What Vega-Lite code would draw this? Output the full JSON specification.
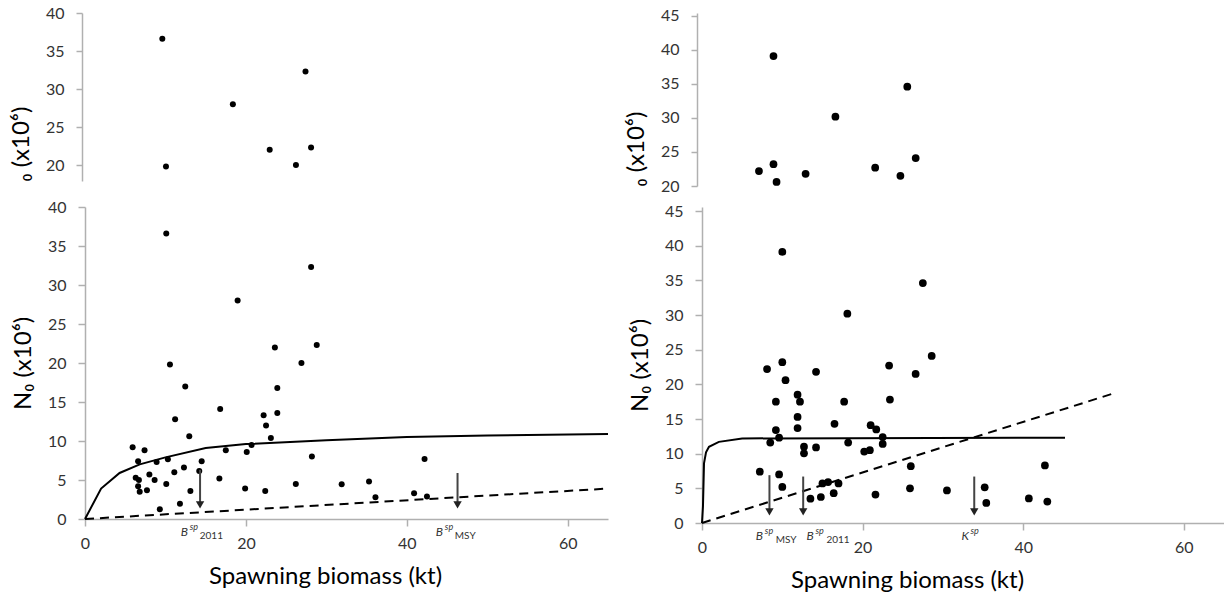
{
  "$schema": "https://vega.github.io/schema/vega-lite/v6.json",
  "padding": {"left": 9, "top": 5, "right": 0, "bottom": 0},
  "background": "white",
  "columns": 2,
  "spacing": {"row": 21, "column": 94},
  "bounds": "flush",
  "align": "each",
  "datasets": {
    "L": [
      {"x": 18.97, "y": 28.0}, {"x": 23.6, "y": 22.0}, {"x": 28.8, "y": 22.3}, {"x": 26.9, "y": 20.0},
      {"x": 10.56, "y": 19.8}, {"x": 12.46, "y": 17.0}, {"x": 23.9, "y": 16.8}, {"x": 16.8, "y": 14.1},
      {"x": 22.2, "y": 13.3}, {"x": 23.9, "y": 13.6}, {"x": 11.2, "y": 12.8}, {"x": 22.5, "y": 12.0},
      {"x": 12.96, "y": 10.6}, {"x": 23.1, "y": 10.4}, {"x": 5.92, "y": 9.2}, {"x": 7.4, "y": 8.8},
      {"x": 17.5, "y": 8.8}, {"x": 20.1, "y": 8.6}, {"x": 20.7, "y": 9.5}, {"x": 28.2, "y": 8.0},
      {"x": 6.6, "y": 7.4}, {"x": 8.9, "y": 7.3}, {"x": 10.3, "y": 7.65}, {"x": 14.5, "y": 7.4},
      {"x": 14.2, "y": 6.15}, {"x": 11.1, "y": 6.0}, {"x": 12.3, "y": 6.6}, {"x": 8.0, "y": 5.7},
      {"x": 8.65, "y": 5.0}, {"x": 6.3, "y": 5.3}, {"x": 6.7, "y": 5.0}, {"x": 6.6, "y": 4.2},
      {"x": 7.7, "y": 3.7}, {"x": 6.8, "y": 3.5}, {"x": 10.1, "y": 4.5}, {"x": 16.7, "y": 5.2},
      {"x": 13.1, "y": 3.6}, {"x": 19.9, "y": 3.9}, {"x": 22.4, "y": 3.6}, {"x": 26.2, "y": 4.5},
      {"x": 11.8, "y": 1.96}, {"x": 9.3, "y": 1.24}, {"x": 31.9, "y": 4.45}, {"x": 35.3, "y": 4.8},
      {"x": 36.1, "y": 2.8}, {"x": 40.9, "y": 3.3}, {"x": 42.2, "y": 7.7}, {"x": 42.5, "y": 2.9},
      {"x": 10.1, "y": 36.6}, {"x": 28.1, "y": 32.3}
    ],
    "R": [
      {"x": 18.1, "y": 30.2}, {"x": 28.6, "y": 24.1}, {"x": 23.3, "y": 22.7}, {"x": 26.6, "y": 21.5},
      {"x": 8.1, "y": 22.2}, {"x": 10.0, "y": 23.2}, {"x": 10.4, "y": 20.6}, {"x": 14.2, "y": 21.8},
      {"x": 9.2, "y": 17.5}, {"x": 11.9, "y": 18.5}, {"x": 12.2, "y": 17.5}, {"x": 17.7, "y": 17.5},
      {"x": 23.4, "y": 17.8}, {"x": 11.9, "y": 15.3}, {"x": 11.9, "y": 13.7}, {"x": 16.5, "y": 14.3},
      {"x": 21.0, "y": 14.1}, {"x": 21.7, "y": 13.5}, {"x": 9.2, "y": 13.4}, {"x": 9.6, "y": 12.3},
      {"x": 8.5, "y": 11.6}, {"x": 18.2, "y": 11.6}, {"x": 22.5, "y": 12.4}, {"x": 22.5, "y": 11.4},
      {"x": 12.7, "y": 11.0}, {"x": 12.7, "y": 10.05}, {"x": 14.2, "y": 10.9}, {"x": 20.2, "y": 10.3},
      {"x": 20.9, "y": 10.5}, {"x": 7.2, "y": 7.4}, {"x": 9.6, "y": 7.0}, {"x": 10.0, "y": 5.2},
      {"x": 26.0, "y": 8.2}, {"x": 15.0, "y": 5.7}, {"x": 15.7, "y": 5.9}, {"x": 17.0, "y": 5.7},
      {"x": 16.4, "y": 4.3}, {"x": 14.8, "y": 3.75}, {"x": 13.5, "y": 3.5}, {"x": 21.6, "y": 4.1},
      {"x": 25.9, "y": 5.0}, {"x": 30.5, "y": 4.7}, {"x": 10.0, "y": 39.1}, {"x": 27.5, "y": 34.6},
      {"x": 35.2, "y": 5.15}, {"x": 35.4, "y": 2.9}, {"x": 40.7, "y": 3.55}, {"x": 42.7, "y": 8.3},
      {"x": 43.0, "y": 3.1}
    ],
    "Lsolid": [
      {"x": 0, "y": 0}, {"x": 2.0, "y": 3.9}, {"x": 4.3, "y": 5.9}, {"x": 6.8, "y": 7.0},
      {"x": 10, "y": 7.9}, {"x": 15, "y": 9.1}, {"x": 20, "y": 9.6}, {"x": 30, "y": 10.1},
      {"x": 40, "y": 10.5}, {"x": 50, "y": 10.7}, {"x": 65, "y": 10.9}
    ],
    "Ldash": [{"x": 0, "y": 0}, {"x": 65, "y": 3.9}],
    "Rsolid": [
      {"x": 0, "y": 0}, {"x": 0.12, "y": 2.4}, {"x": 0.25, "y": 8.6}, {"x": 0.5, "y": 10.2},
      {"x": 0.87, "y": 11.0}, {"x": 2.1, "y": 11.7}, {"x": 5, "y": 12.2}, {"x": 45.2, "y": 12.3}
    ],
    "Rdash": [{"x": 0, "y": 0}, {"x": 51, "y": 18.6}],
    "Larrows": [
      {"x": 14.3, "top": 6.3, "tip": 1.8, "lx": 11.9, "base": "B", "sup": "sp", "sub": "2011"},
      {"x": 46.3, "top": 5.9, "tip": 1.8, "lx": 43.6, "base": "B", "sup": "sp", "sub": "MSY"}
    ],
    "Rarrows": [
      {"x": 8.4, "top": 6.9, "tip": 1.6, "lx": 6.7, "base": "B", "sup": "sp", "sub": "MSY"},
      {"x": 12.6, "top": 6.7, "tip": 1.6, "lx": 13.0, "base": "B", "sup": "sp", "sub": "2011"},
      {"x": 33.9, "top": 6.7, "tip": 1.6, "lx": 32.3, "base": "K", "sup": "sp", "sub": ""}
    ]
  },
  "concat": [
    {
      "width": 514, "height": 168,
      "data": {"name": "L"},
      "mark": {"type": "circle", "size": 36, "color": "#000", "opacity": 1, "clip": true},
      "encoding": {
        "x": {"field": "x", "type": "quantitative", "scale": {"domain": [0.38, 65], "nice": false, "zero": false}, "axis": null},
        "y": {"field": "y", "type": "quantitative", "scale": {"domain": [17.9, 40], "nice": false, "zero": false},
              "axis": {"values": [20, 25, 30, 35, 40], "title": "₀ (x10⁶)", "titleAnchor": "start", "offset": 3, "tickSize": 6, "labelPadding": 12, "titlePadding": 12}}
      }
    },
    {
      "width": 492, "height": 173,
      "data": {"name": "R"},
      "mark": {"type": "circle", "size": 60, "color": "#000", "opacity": 1, "clip": true},
      "encoding": {
        "x": {"field": "x", "type": "quantitative", "scale": {"domain": [0.65, 65], "nice": false, "zero": false}, "axis": null},
        "y": {"field": "y", "type": "quantitative", "scale": {"domain": [20, 45.44], "nice": false, "zero": false},
              "axis": {"values": [20, 25, 30, 35, 40, 45], "title": "₀ (x10⁶)", "titleAnchor": "start", "offset": 5, "tickSize": 6, "labelPadding": 12, "titlePadding": 12}}
      }
    },
    {
      "width": 523, "height": 312,
      "layer": [
        {
          "data": {"name": "L"},
          "mark": {"type": "circle", "size": 36, "color": "#000", "opacity": 1},
          "encoding": {
            "x": {"field": "x", "type": "quantitative", "scale": {"domain": [0, 65], "nice": false},
                  "axis": {"values": [0, 20, 40, 60], "title": "Spawning biomass (kt)", "titleX": 240, "titleY": 64, "titleBaseline": "alphabetic", "tickSize": 7, "labelPadding": 9}},
            "y": {"field": "y", "type": "quantitative", "scale": {"domain": [0, 40], "nice": false},
                  "axis": {"values": [0, 5, 10, 15, 20, 25, 30, 35, 40], "title": "N₀ (x10⁶)", "tickSize": 7, "labelPadding": 12, "titlePadding": 12}}
          }
        },
        {
          "data": {"name": "Lsolid"},
          "mark": {"type": "line", "color": "#000", "strokeWidth": 2},
          "encoding": {
            "x": {"field": "x", "type": "quantitative"},
            "y": {"field": "y", "type": "quantitative", "axis": {"values": [0, 5, 10, 15, 20, 25, 30, 35, 40], "title": "N₀ (x10⁶)", "tickSize": 7, "labelPadding": 12, "titlePadding": 12}}
          }
        },
        {
          "data": {"name": "Ldash"},
          "mark": {"type": "line", "color": "#000", "strokeWidth": 2, "strokeDash": [9, 6]},
          "encoding": {
            "x": {"field": "x", "type": "quantitative"},
            "y": {"field": "y", "type": "quantitative", "axis": {"values": [0, 5, 10, 15, 20, 25, 30, 35, 40], "title": "N₀ (x10⁶)", "tickSize": 7, "labelPadding": 12, "titlePadding": 12}}
          }
        },
        {
          "data": {"name": "Larrows"},
          "mark": {"type": "rule", "color": "#444", "strokeWidth": 2},
          "encoding": {
            "x": {"field": "x", "type": "quantitative"},
            "y": {"field": "top", "type": "quantitative", "axis": {"values": [0, 5, 10, 15, 20, 25, 30, 35, 40], "title": "N₀ (x10⁶)", "tickSize": 7, "labelPadding": 12, "titlePadding": 12}},
            "y2": {"field": "tip"}
          }
        },
        {
          "data": {"name": "Larrows"},
          "mark": {"type": "point", "shape": "triangle-down", "filled": true, "size": 70, "color": "#222", "opacity": 1},
          "encoding": {
            "x": {"field": "x", "type": "quantitative"},
            "y": {"field": "tip", "type": "quantitative", "axis": {"values": [0, 5, 10, 15, 20, 25, 30, 35, 40], "title": "N₀ (x10⁶)", "tickSize": 7, "labelPadding": 12, "titlePadding": 12}}
          }
        },
        {
          "data": {"name": "Larrows"},
          "mark": {"type": "text", "align": "left", "baseline": "middle", "dy": 13, "fontSize": 12, "fontStyle": "italic", "font": "Lato", "color": "#333"},
          "encoding": {
            "x": {"field": "lx", "type": "quantitative"},
            "y": {"datum": 0, "type": "quantitative", "axis": {"values": [0, 5, 10, 15, 20, 25, 30, 35, 40], "title": "N₀ (x10⁶)", "tickSize": 7, "labelPadding": 12, "titlePadding": 12}},
            "text": {"field": "base"}
          }
        },
        {
          "data": {"name": "Larrows"},
          "mark": {"type": "text", "align": "left", "baseline": "middle", "dx": 9, "dy": 8, "fontSize": 9, "fontStyle": "italic", "font": "Lato", "color": "#333"},
          "encoding": {
            "x": {"field": "lx", "type": "quantitative"},
            "y": {"datum": 0, "type": "quantitative", "axis": {"values": [0, 5, 10, 15, 20, 25, 30, 35, 40], "title": "N₀ (x10⁶)", "tickSize": 7, "labelPadding": 12, "titlePadding": 12}},
            "text": {"field": "sup"}
          }
        },
        {
          "data": {"name": "Larrows"},
          "mark": {"type": "text", "align": "left", "baseline": "middle", "dx": 19, "dy": 17, "fontSize": 10, "font": "Lato", "color": "#333"},
          "encoding": {
            "x": {"field": "lx", "type": "quantitative"},
            "y": {"datum": 0, "type": "quantitative", "axis": {"values": [0, 5, 10, 15, 20, 25, 30, 35, 40], "title": "N₀ (x10⁶)", "tickSize": 7, "labelPadding": 12, "titlePadding": 12}},
            "text": {"field": "sub"}
          }
        }
      ]
    },
    {
      "width": 522, "height": 316,
      "layer": [
        {
          "data": {"name": "R"},
          "mark": {"type": "circle", "size": 60, "color": "#000", "opacity": 1},
          "encoding": {
            "x": {"field": "x", "type": "quantitative", "scale": {"domain": [0, 65], "nice": false},
                  "axis": {"values": [0, 20, 40, 60], "title": "Spawning biomass (kt)", "titleX": 205, "titleY": 64, "titleBaseline": "alphabetic", "tickSize": 7, "labelPadding": 9}},
            "y": {"field": "y", "type": "quantitative", "scale": {"domain": [0, 45.58], "nice": false},
                  "axis": {"values": [0, 5, 10, 15, 20, 25, 30, 35, 40, 45], "title": "N₀ (x10⁶)", "tickSize": 7, "labelPadding": 12, "titlePadding": 12}}
          }
        },
        {
          "data": {"name": "Rsolid"},
          "mark": {"type": "line", "color": "#000", "strokeWidth": 2},
          "encoding": {
            "x": {"field": "x", "type": "quantitative"},
            "y": {"field": "y", "type": "quantitative", "axis": {"values": [0, 5, 10, 15, 20, 25, 30, 35, 40, 45], "title": "N₀ (x10⁶)", "tickSize": 7, "labelPadding": 12, "titlePadding": 12}}
          }
        },
        {
          "data": {"name": "Rdash"},
          "mark": {"type": "line", "color": "#000", "strokeWidth": 2, "strokeDash": [9, 6]},
          "encoding": {
            "x": {"field": "x", "type": "quantitative"},
            "y": {"field": "y", "type": "quantitative", "axis": {"values": [0, 5, 10, 15, 20, 25, 30, 35, 40, 45], "title": "N₀ (x10⁶)", "tickSize": 7, "labelPadding": 12, "titlePadding": 12}}
          }
        },
        {
          "data": {"name": "Rarrows"},
          "mark": {"type": "rule", "color": "#444", "strokeWidth": 2},
          "encoding": {
            "x": {"field": "x", "type": "quantitative"},
            "y": {"field": "top", "type": "quantitative", "axis": {"values": [0, 5, 10, 15, 20, 25, 30, 35, 40, 45], "title": "N₀ (x10⁶)", "tickSize": 7, "labelPadding": 12, "titlePadding": 12}},
            "y2": {"field": "tip"}
          }
        },
        {
          "data": {"name": "Rarrows"},
          "mark": {"type": "point", "shape": "triangle-down", "filled": true, "size": 70, "color": "#222", "opacity": 1},
          "encoding": {
            "x": {"field": "x", "type": "quantitative"},
            "y": {"field": "tip", "type": "quantitative", "axis": {"values": [0, 5, 10, 15, 20, 25, 30, 35, 40, 45], "title": "N₀ (x10⁶)", "tickSize": 7, "labelPadding": 12, "titlePadding": 12}}
          }
        },
        {
          "data": {"name": "Rarrows"},
          "mark": {"type": "text", "align": "left", "baseline": "middle", "dy": 13, "fontSize": 12, "fontStyle": "italic", "font": "Lato", "color": "#333"},
          "encoding": {
            "x": {"field": "lx", "type": "quantitative"},
            "y": {"datum": 0, "type": "quantitative", "axis": {"values": [0, 5, 10, 15, 20, 25, 30, 35, 40, 45], "title": "N₀ (x10⁶)", "tickSize": 7, "labelPadding": 12, "titlePadding": 12}},
            "text": {"field": "base"}
          }
        },
        {
          "data": {"name": "Rarrows"},
          "mark": {"type": "text", "align": "left", "baseline": "middle", "dx": 9, "dy": 8, "fontSize": 9, "fontStyle": "italic", "font": "Lato", "color": "#333"},
          "encoding": {
            "x": {"field": "lx", "type": "quantitative"},
            "y": {"datum": 0, "type": "quantitative", "axis": {"values": [0, 5, 10, 15, 20, 25, 30, 35, 40, 45], "title": "N₀ (x10⁶)", "tickSize": 7, "labelPadding": 12, "titlePadding": 12}},
            "text": {"field": "sup"}
          }
        },
        {
          "data": {"name": "Rarrows"},
          "mark": {"type": "text", "align": "left", "baseline": "middle", "dx": 20, "dy": 17, "fontSize": 10, "font": "Lato", "color": "#333"},
          "encoding": {
            "x": {"field": "lx", "type": "quantitative"},
            "y": {"datum": 0, "type": "quantitative", "axis": {"values": [0, 5, 10, 15, 20, 25, 30, 35, 40, 45], "title": "N₀ (x10⁶)", "tickSize": 7, "labelPadding": 12, "titlePadding": 12}},
            "text": {"field": "sub"}
          }
        }
      ]
    }
  ],
  "config": {
    "view": {"stroke": null},
    "font": "Lato",
    "axis": {
      "grid": false,
      "labelFlush": false,
      "labelOverlap": false,
      "labelFont": "Lato", "labelFontSize": 16, "labelColor": "#333",
      "titleFont": "Lato", "titleFontSize": 24, "titleFontWeight": "normal", "titleColor": "#000",
      "domainColor": "#b0b0b0", "tickColor": "#b0b0b0", "domainWidth": 1.5, "tickWidth": 1.5
    }
  }
}
